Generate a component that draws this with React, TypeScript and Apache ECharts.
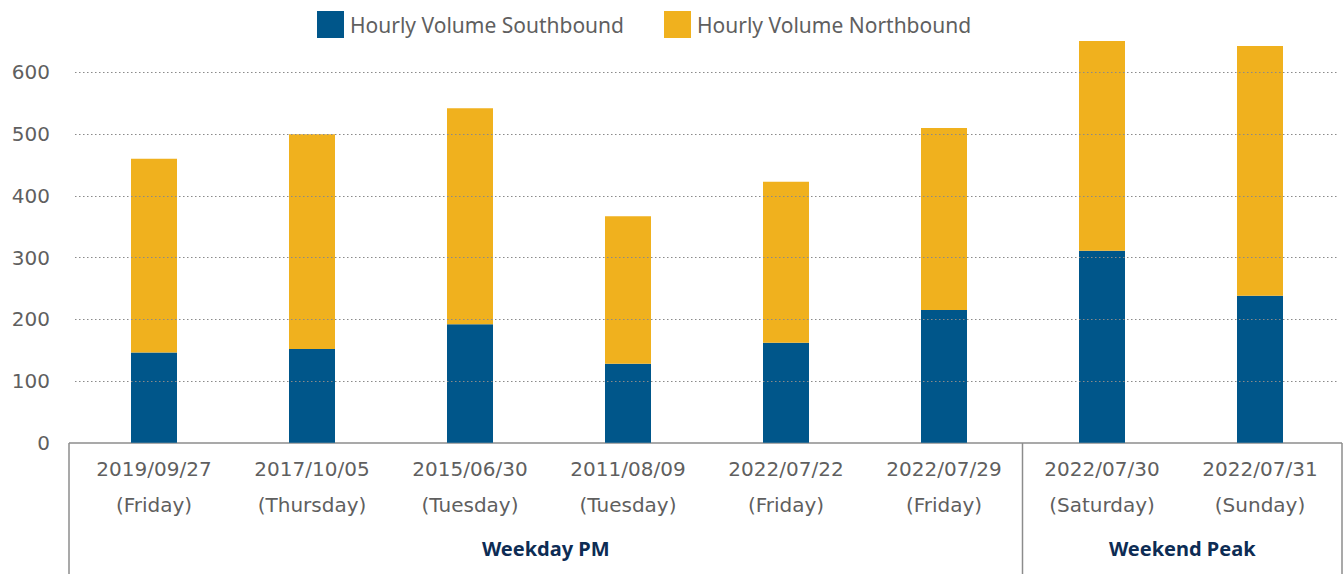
import React, { useEffect, useRef } from "react";
import * as echarts from "echarts";

const dates = ["2019/09/27", "2017/10/05", "2015/06/30", "2011/08/09", "2022/07/22", "2022/07/29", "2022/07/30", "2022/07/31"];
const days = ["Friday", "Thursday", "Tuesday", "Tuesday", "Friday", "Friday", "Saturday", "Sunday"];
const southbound = [146, 152, 192, 128, 162, 215, 311, 238];
const northbound = [314, 348, 350, 239, 261, 295, 340, 405];
const gridTicks = [100, 200, 300, 400, 500, 600];
const groups = [
  { label: "Weekday PM", x0: 69, x1: 1022.5 },
  { label: "Weekend Peak", x0: 1022.5, x1: 1342 },
];

const BLUE = "#00568A";
const GOLD = "#F0B11E";
const GRAY = "#5f5f5f";
const NAVY = "#0D2C54";
const LINE = "#8C8C8C";
const LABEL_FONT = "'DejaVu Sans', sans-serif";

export default function App() {
  const ref = useRef<HTMLDivElement>(null);
  useEffect(() => {
    if (!ref.current) return;
    const chart = echarts.init(ref.current, undefined, { renderer: "svg" });
    const axisY = 443;
    const graphics: any[] = [
      { type: "line", shape: { x1: 69, y1: axisY, x2: 1342, y2: axisY }, style: { stroke: LINE, lineWidth: 1.5 }, silent: true },
      ...[69, 1022.5, 1342].map((x) => ({
        type: "line",
        shape: { x1: x, y1: axisY, x2: x, y2: 574 },
        style: { stroke: LINE, lineWidth: 1.5 },
        silent: true,
      })),
      ...groups.map((g) => ({
        type: "text",
        x: (g.x0 + g.x1) / 2,
        y: 548,
        style: {
          text: g.label,
          fill: NAVY,
          font: "bold 20px 'Noto Sans', sans-serif",
          textAlign: "center",
          textVerticalAlign: "middle",
        },
        silent: true,
      })),
    ];
    chart.setOption({
      animation: false,
      grid: { left: 75, right: 5, top: 442.7 - 700 * 0.6171, bottom: 574 - 442.7, containLabel: false },
      legend: {
        top: 6,
        left: 312,
        itemWidth: 27,
        itemHeight: 27,
        itemGap: 40,
        icon: "rect",
        textStyle: { color: GRAY, fontSize: 21, fontFamily: "'Noto Sans', sans-serif", padding: [0, 0, 0, 1] },
        data: ["Hourly Volume Southbound", "Hourly Volume Northbound"],
      },
      xAxis: {
        type: "category",
        data: dates.map((d, i) => d + "\n(" + days[i] + ")"),
        axisLine: { show: false },
        axisTick: { show: false },
        axisLabel: {
          color: GRAY,
          fontSize: 20,
          fontFamily: LABEL_FONT,
          lineHeight: 36,
          margin: 8,
          interval: 0,
        },
      },
      yAxis: {
        type: "value",
        min: 0,
        max: 700,
        interval: 100,
        axisLine: { show: false },
        axisTick: { show: false },
        splitLine: { show: false },
        axisLabel: {
          color: GRAY,
          fontSize: 20,
          fontFamily: LABEL_FONT,
          margin: 25,
          showMaxLabel: false,
        },
      },
      series: [
        {
          name: "Hourly Volume Southbound",
          type: "bar",
          stack: "total",
          barWidth: 46,
          data: southbound,
          itemStyle: { color: BLUE },
          markLine: {
            silent: true,
            symbol: "none",
            label: { show: false },
            lineStyle: { color: "#8a8a8a", type: [1.5, 2.5], width: 1.2 },
            data: gridTicks.map((v) => ({ yAxis: v })),
          },
          z: 3,
        },
        {
          name: "Hourly Volume Northbound",
          type: "bar",
          stack: "total",
          barWidth: 46,
          data: northbound,
          itemStyle: { color: GOLD },
          z: 3,
        },
      ],
      graphic: graphics,
    });
    return () => chart.dispose();
  }, []);
  return <div ref={ref} style={{ position: "fixed", left: 0, top: 0, width: 1344, height: 574, background: "#fff" }} />;
}
